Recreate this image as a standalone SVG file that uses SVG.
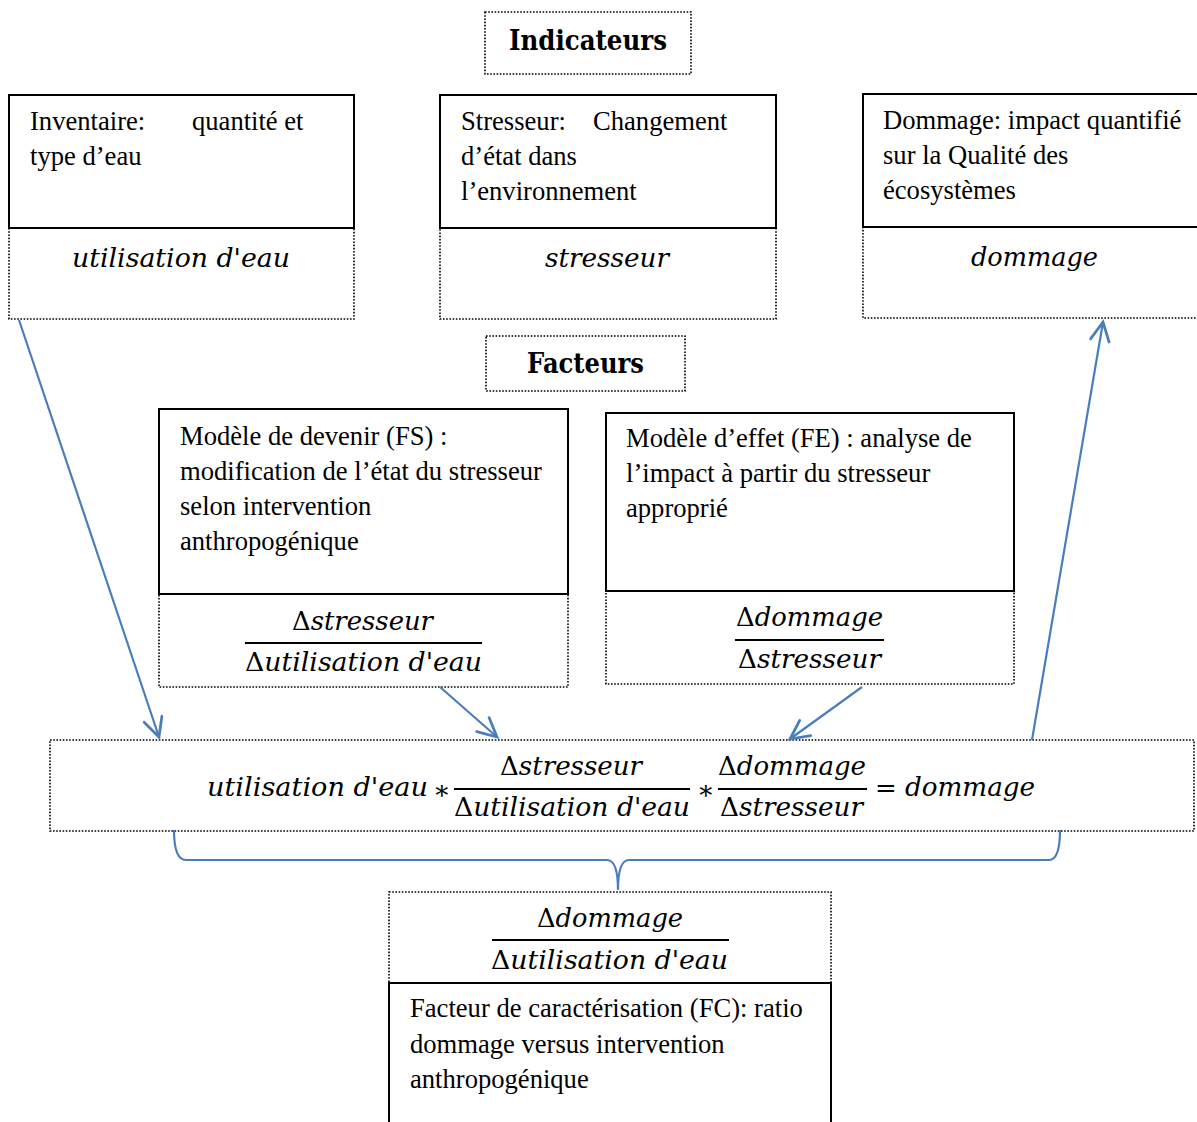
<svg xmlns="http://www.w3.org/2000/svg" width="1197" height="1122" viewBox="0 0 1197 1122">
<style>
.bg{fill:#ffffff}
.solid{fill:none;stroke:#000;stroke-width:2}
.dot{fill:none;stroke:#000;stroke-width:1.6;stroke-dasharray:1.6 1.6}
.t{font-family:"Liberation Serif","Times New Roman",serif;font-size:26.6px;fill:#000}
.h{font-family:"DejaVu Serif",serif;font-weight:bold;font-size:28px;fill:#000}
.m{font-family:"DejaVu Serif",serif;font-style:italic;font-size:26px;fill:#000}
.up{font-style:normal}
.frac{stroke:#000;stroke-width:2}
.conn{fill:none;stroke:#4a7ebb;stroke-width:2.2}
</style>
<defs>
<marker id="arr" markerUnits="userSpaceOnUse" markerWidth="30" markerHeight="30" refX="0" refY="0" viewBox="-20 -12 24 24" orient="auto" overflow="visible">
<path d="M-15,-7.5 L0,0 L-15,7.5" fill="none" stroke="#4a7ebb" stroke-width="2.2" stroke-linecap="round" stroke-linejoin="miter"/>
</marker>
</defs>
<rect class="bg" x="0" y="0" width="1197" height="1122"/>

<g id="indicateurs">
<rect class="dot" x="485" y="12" width="206" height="62"/>
<text class="h" x="509" y="50" textLength="158" lengthAdjust="spacingAndGlyphs">Indicateurs</text>
</g>

<g id="inventaire">
<rect class="solid" x="9" y="95" width="345" height="133"/>
<rect class="dot" x="9" y="228" width="345" height="91"/>
<text class="t" x="30" y="130">Inventaire:</text>
<text class="t" x="192" y="130">quantité et</text>
<text class="t" x="30" y="165">type d’eau</text>
<text class="m" x="72" y="267" textLength="218" lengthAdjust="spacingAndGlyphs">utilisation d'eau</text>
</g>

<g id="stresseur">
<rect class="solid" x="440" y="95" width="336" height="133"/>
<rect class="dot" x="440" y="228" width="336" height="91"/>
<text class="t" x="461" y="130">Stresseur:</text>
<text class="t" x="593" y="130">Changement</text>
<text class="t" x="461" y="165">d’état dans</text>
<text class="t" x="461" y="200">l’environnement</text>
<text class="m" x="545" y="267" textLength="124" lengthAdjust="spacingAndGlyphs">stresseur</text>
</g>

<g id="dommage">
<rect class="solid" x="863" y="94" width="340" height="133"/>
<rect class="dot" x="863" y="227" width="340" height="91"/>
<text class="t" x="883" y="129">Dommage: impact quantifié</text>
<text class="t" x="883" y="164">sur la Qualité des</text>
<text class="t" x="883" y="199">écosystèmes</text>
<text class="m" x="971" y="266" textLength="127" lengthAdjust="spacingAndGlyphs">dommage</text>
</g>

<g id="facteurs">
<rect class="dot" x="486" y="336" width="199" height="55"/>
<text class="h" x="527" y="373" textLength="117" lengthAdjust="spacingAndGlyphs">Facteurs</text>
</g>

<g id="modele-devenir">
<rect class="solid" x="159" y="409" width="409" height="185"/>
<rect class="dot" x="159" y="594" width="409" height="93"/>
<text class="t" x="180" y="445">Modèle de devenir (FS) :</text>
<text class="t" x="180" y="480">modification de l’état du stresseur</text>
<text class="t" x="180" y="515">selon intervention</text>
<text class="t" x="180" y="550">anthropogénique</text>
<text class="m" x="292" y="630" textLength="141" lengthAdjust="spacingAndGlyphs"><tspan class="up">Δ</tspan>stresseur</text>
<line class="frac" x1="245" y1="643" x2="482" y2="643"/>
<text class="m" x="245" y="671" textLength="237" lengthAdjust="spacingAndGlyphs"><tspan class="up">Δ</tspan>utilisation d'eau</text>
</g>

<g id="modele-effet">
<rect class="solid" x="606" y="413" width="408" height="178"/>
<rect class="dot" x="606" y="591" width="408" height="93"/>
<text class="t" x="626" y="447">Modèle d’effet (FE) : analyse de</text>
<text class="t" x="626" y="482">l’impact à partir du stresseur</text>
<text class="t" x="626" y="517">approprié</text>
<text class="m" x="736" y="626" textLength="147" lengthAdjust="spacingAndGlyphs"><tspan class="up">Δ</tspan>dommage</text>
<line class="frac" x1="735" y1="640" x2="884" y2="640"/>
<text class="m" x="738" y="668" textLength="143" lengthAdjust="spacingAndGlyphs"><tspan class="up">Δ</tspan>stresseur</text>
</g>

<g id="equation">
<rect class="dot" x="50" y="740" width="1144" height="91"/>
<text class="m" x="207" y="796" textLength="221" lengthAdjust="spacingAndGlyphs">utilisation d'eau</text>
<text class="m" x="433" y="799"><tspan class="up">∗</tspan></text>
<text class="m" x="500" y="775" textLength="142" lengthAdjust="spacingAndGlyphs"><tspan class="up">Δ</tspan>stresseur</text>
<line class="frac" x1="454" y1="789" x2="690" y2="789"/>
<text class="m" x="454" y="816" textLength="236" lengthAdjust="spacingAndGlyphs"><tspan class="up">Δ</tspan>utilisation d'eau</text>
<text class="m" x="697" y="799"><tspan class="up">∗</tspan></text>
<text class="m" x="718" y="775" textLength="148" lengthAdjust="spacingAndGlyphs"><tspan class="up">Δ</tspan>dommage</text>
<line class="frac" x1="718" y1="789" x2="867" y2="789"/>
<text class="m" x="720" y="816" textLength="143" lengthAdjust="spacingAndGlyphs"><tspan class="up">Δ</tspan>stresseur</text>
<text class="m" x="875" y="797"><tspan class="up">=</tspan></text>
<text class="m" x="905" y="796" textLength="130" lengthAdjust="spacingAndGlyphs">dommage</text>
</g>

<g id="facteur-caracterisation">
<rect class="dot" x="389" y="892" width="442" height="91"/>
<rect class="solid" x="389" y="983" width="442" height="150"/>
<text class="m" x="537" y="927" textLength="146" lengthAdjust="spacingAndGlyphs"><tspan class="up">Δ</tspan>dommage</text>
<line class="frac" x1="492" y1="940" x2="729" y2="940"/>
<text class="m" x="491" y="969" textLength="237" lengthAdjust="spacingAndGlyphs"><tspan class="up">Δ</tspan>utilisation d'eau</text>
<text class="t" x="410" y="1017">Facteur de caractérisation (FC): ratio</text>
<text class="t" x="410" y="1053">dommage versus intervention</text>
<text class="t" x="410" y="1088">anthropogénique</text>
</g>

<g id="connectors">
<line class="conn" x1="19" y1="320" x2="159" y2="737" marker-end="url(#arr)"/>
<line class="conn" x1="440" y1="687" x2="497" y2="737" marker-end="url(#arr)"/>
<line class="conn" x1="862" y1="687" x2="790" y2="739" marker-end="url(#arr)"/>
<line class="conn" x1="1032" y1="740" x2="1103" y2="322" marker-end="url(#arr)"/>
<path class="conn" d="M174,830 Q174,860 186,860 L607,860 Q618,860 618,890 Q618,860 629,860 L1049,860 Q1060,860 1060,830"/>
</g>
</svg>
